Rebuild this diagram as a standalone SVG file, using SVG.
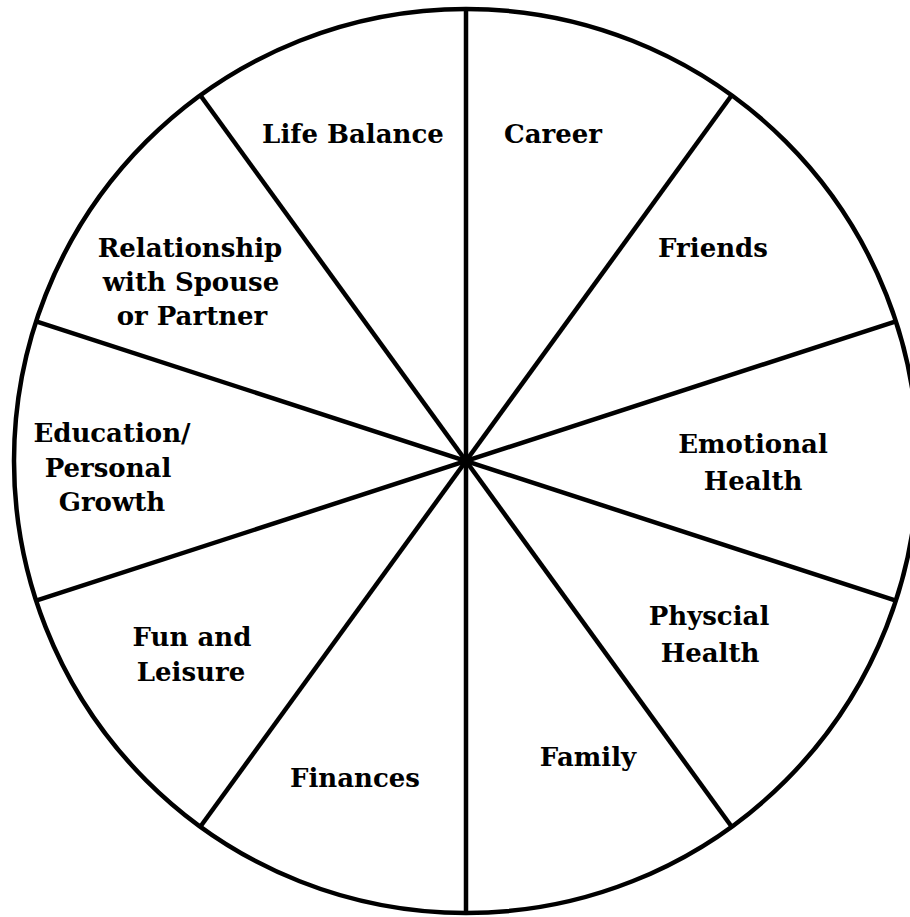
<svg xmlns="http://www.w3.org/2000/svg" width="910" height="917" viewBox="0 0 910 917">
<style>
.lbl{font-family:"DejaVu Serif","Liberation Serif",serif;font-weight:bold;font-size:26px;fill:#000;text-anchor:middle}
.ln{stroke:#000;stroke-width:4.5;fill:none}
</style>
<rect width="910" height="917" fill="#fff"/>
<g id="wheel">
<circle class="ln" cx="466" cy="461" r="452"/>
</g>
<g id="connectors">
<line class="ln" x1="466" y1="9" x2="466" y2="913"/>
<line class="ln" x1="731.7" y1="95.3" x2="200.3" y2="826.7"/>
<line class="ln" x1="895.9" y1="321.3" x2="36.1" y2="600.7"/>
<line class="ln" x1="895.9" y1="600.7" x2="36.1" y2="321.3"/>
<line class="ln" x1="731.7" y1="826.7" x2="200.3" y2="95.3"/>
</g>
<g id="life-balance"><text class="lbl" x="353" y="143">Life Balance</text></g>
<g id="career"><text class="lbl" x="553" y="143">Career</text></g>
<g id="friends"><text class="lbl" x="713" y="257">Friends</text></g>
<g id="emotional-health"><text class="lbl" x="753" y="453">Emotional</text><text class="lbl" x="753" y="490">Health</text></g>
<g id="physical-health"><text class="lbl" x="709" y="625">Physcial</text><text class="lbl" x="710" y="662">Health</text></g>
<g id="family"><text class="lbl" x="588" y="766">Family</text></g>
<g id="finances"><text class="lbl" x="355" y="787">Finances</text></g>
<g id="fun-leisure"><text class="lbl" x="192" y="646">Fun and</text><text class="lbl" x="191" y="681">Leisure</text></g>
<g id="education"><text class="lbl" x="112" y="442">Education/</text><text class="lbl" x="108" y="477">Personal</text><text class="lbl" x="112" y="511">Growth</text></g>
<g id="relationship"><text class="lbl" x="190" y="257">Relationship</text><text class="lbl" x="191" y="291">with Spouse</text><text class="lbl" x="192" y="325">or Partner</text></g>
</svg>
